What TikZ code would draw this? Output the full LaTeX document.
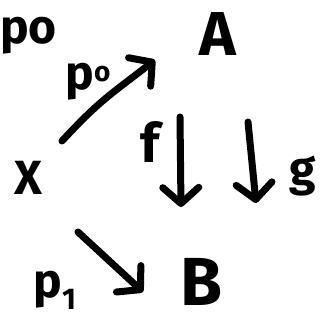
\documentclass[tikz,border=0pt]{standalone}
\usepackage{fontspec}
\setmainfont{Fira Sans}
\usetikzlibrary{arrows.meta}
\begin{document}
\begin{tikzpicture}[x=1pt,y=-1pt,
  obj/.style={font=\fontsize{62}{64}\selectfont\bfseries, inner sep=0pt},
  lbl/.style={font=\fontsize{48}{50}\selectfont\bfseries, inner sep=0pt},
  hand/.style={line width=7pt, line cap=round, line join=round,
    -{Straight Barb[length=16pt,width=36pt,line width=7pt,round]}}]
\path[use as bounding box] (0,0) rectangle (320,323);
\node[lbl, anchor=west] (frag) at (0,36) {po};
\node[obj] (A) at (218,34) {A};
\node[obj, font=\fontsize{48}{50}\selectfont\bfseries] (X) at (28,178) {X};
\node[obj, font=\fontsize{68}{70}\selectfont\bfseries] (B) at (201,282) {B};
\coordinate (p0s) at (62,141);
\coordinate (p0e) at (155,60);
\draw[hand] (p0s) .. controls (100,100) and (110,95) .. (p0e);
\node[lbl] (p0) at (88,82) {p\raisebox{8pt}{\fontsize{28}{28}\selectfont o}};
\coordinate (fs) at (180,117);
\coordinate (fe) at (181,207);
\draw[hand] (fs) -- (fe);
\node[lbl, font=\fontsize{54}{56}\selectfont\bfseries] (f) at (150,142) {f};
\coordinate (gs) at (248,122);
\coordinate (ge) at (256,203);
\draw[hand] (gs) -- (ge);
\node[lbl] (g) at (303,176) {g};
\coordinate (p1s) at (78,232);
\coordinate (p1e) at (143,292);
\draw[hand] (p1s) -- (p1e);
\node[lbl] (p1) at (55,290) {p\textsubscript{\fontsize{30}{30}\selectfont 1}};
\end{tikzpicture}
\end{document}
